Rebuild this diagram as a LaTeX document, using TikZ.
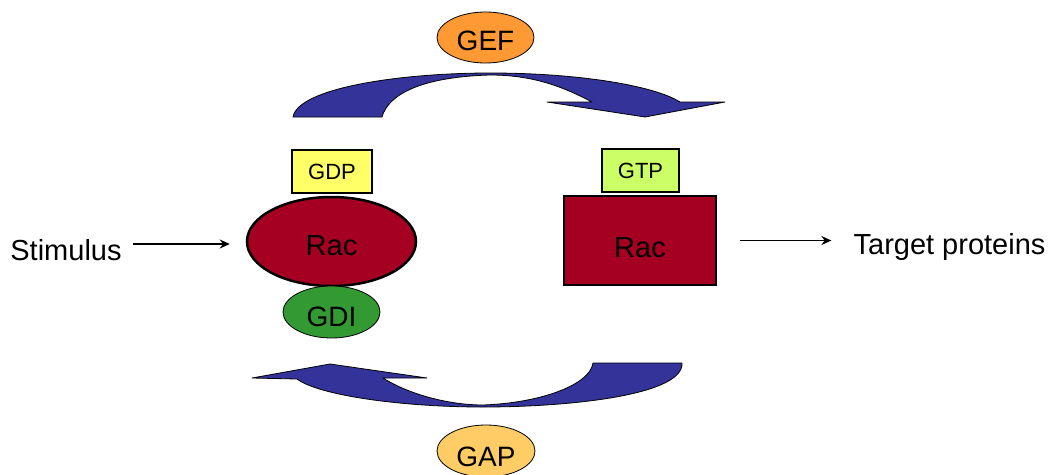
\documentclass[tikz,border=0pt]{standalone}
\usepackage{fontspec}
\setmainfont{Liberation Sans}
\usetikzlibrary{shapes.geometric,arrows.meta}
\definecolor{gefc}{HTML}{FF9933}
\definecolor{gapc}{HTML}{FFCC66}
\definecolor{gdpc}{HTML}{FFFF66}
\definecolor{gtpc}{HTML}{CCFF66}
\definecolor{racc}{HTML}{A50021}
\definecolor{gdic}{HTML}{339933}
\definecolor{cyclec}{HTML}{333399}
\tikzset{
  oval/.style={ellipse, draw=black, line width=0.8pt, inner sep=0pt, font=\fontsize{28}{30}\selectfont, text depth=0pt},
  nucleotide/.style={rectangle, draw=black, line width=2.5pt, inner sep=0pt, font=\fontsize{22}{24}\selectfont},
  label/.style={inner sep=3pt, font=\fontsize{29}{31}\selectfont},
  signal/.style={line width=1.8pt, -{Stealth[length=10pt,width=9pt]}},
  cycle/.style={fill=cyclec, draw=black, line width=0.8pt, line join=round}
}
\begin{document}
\begin{tikzpicture}[x=1pt,y=-1pt]
\useasboundingbox (0,0) rectangle (1051,474);

% exchange and hydrolysis cycle arrows
\path[cycle] (293,117) .. controls (298,88) and (400,73) .. (490,73)
  .. controls (580,73) and (655,86) .. (680,102)
  -- (725,102) -- (645,117) -- (547,102) -- (592,102)
  .. controls (560,85) and (530,75) .. (490,75)
  .. controls (420,77) and (388,95) .. (382,117) -- cycle;
\path[cycle] (682,363) .. controls (684,395) and (570,407) .. (483,407)
  .. controls (400,407) and (318,395) .. (297,379)
  -- (252,378) -- (330,364) -- (427,378) -- (383,378)
  .. controls (410,395) and (450,405) .. (483,405)
  .. controls (540,403) and (590,385) .. (593,363) -- cycle;

% regulators
\node[oval, fill=gefc, minimum width=97pt, minimum height=51pt, text height=25pt] (gef) at (485.5,37.5) {GEF};
\node[oval, fill=gapc, minimum width=98pt, minimum height=52pt, text height=30pt] (gap) at (486,451) {GAP};

% inactive Rac
\node[nucleotide, fill=gdpc, minimum width=80pt, minimum height=43pt] (gdp) at (332,171.5) {GDP};
\node[ellipse, draw=black, line width=2.5pt, fill=racc, inner sep=0pt,
      minimum width=169pt, minimum height=89pt, font=\fontsize{29}{31}\selectfont,
      text height=28.8pt, text depth=0pt] (racL) at (331.5,241.5) {Rac};
\node[oval, fill=gdic, minimum width=97pt, minimum height=52pt, text height=28pt] (gdi) at (331.5,312) {GDI};

% active Rac
\node[nucleotide, fill=gtpc, minimum width=77pt, minimum height=43pt] (gtp) at (640.5,170.5) {GTP};
\node[rectangle, draw=black, line width=2.5pt, fill=racc, inner sep=0pt,
      minimum width=152pt, minimum height=89pt, font=\fontsize{29}{31}\selectfont,
      text height=33.8pt, text depth=0pt] (racR) at (640,240.5) {Rac};

% input and output
\node[label, text height=26.8pt, text depth=0pt] (stim) at (66,247) {Stimulus};
\node[label] (tgt) at (949.5,247) {Target proteins};

\draw[signal, shorten <=8pt, shorten >=16pt] ([yshift=3pt]stim.east) -- ([yshift=3pt]stim.east -| racL.west);
\draw[signal, shorten <=23pt, shorten >=19pt] (racR.east) -- (racR.east -| tgt.west);
\end{tikzpicture}
\end{document}
